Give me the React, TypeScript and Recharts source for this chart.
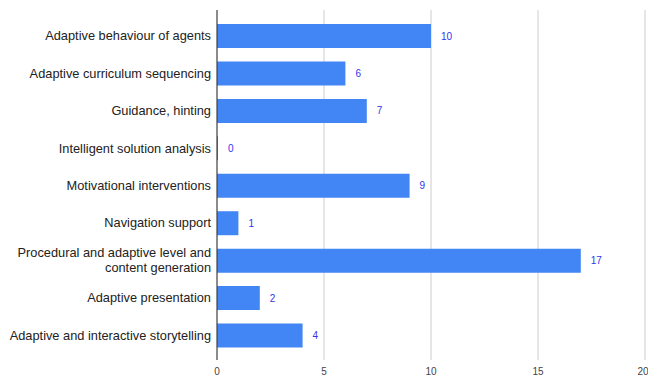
import React from "react";
import { BarChart, Bar, CartesianGrid, XAxis, YAxis, LabelList } from "recharts";

const categories = [
  "Adaptive behaviour of agents",
  "Adaptive curriculum sequencing",
  "Guidance, hinting",
  "Intelligent solution analysis",
  "Motivational interventions",
  "Navigation support",
  "Procedural and adaptive level and content generation",
  "Adaptive presentation",
  "Adaptive and interactive storytelling",
];
const counts = [10, 6, 7, 0, 9, 1, 17, 2, 4];
const xTicks = [0, 5, 10, 15, 20];

const data = categories.map((name, i) => ({ name, value: counts[i] }));

const FONT = "Arial, 'Liberation Sans', sans-serif";

// long labels wrap onto two lines like the original
const wrap = (s: string, max = 38): string[] => {
  const words = s.split(" ");
  const lines: string[] = [];
  let cur = "";
  words.forEach((w) => {
    const next = cur ? cur + " " + w : w;
    if (next.length > max && cur) {
      lines.push(cur);
      cur = w;
    } else cur = next;
  });
  if (cur) lines.push(cur);
  return lines;
};

const CategoryTick = (props: any) => {
  const { y, payload } = props;
  const lines = wrap(payload.value);
  const lh = 15;
  const start = -((lines.length - 1) * lh) / 2;
  const tx = 211;
  return (
    <text x={tx} y={y} textAnchor="end" fontSize={12.8} fontFamily={FONT} fill="#222">
      {lines.map((l, i) => (
        <tspan key={i} x={tx} dy={i === 0 ? start + 4.5 : lh}>
          {l}
        </tspan>
      ))}
    </text>
  );
};

const App: React.FC = () => {
  return (
    <div style={{ position: "absolute", left: 0, top: 0, background: "#fff" }}>
      <BarChart
        width={648}
        height={380}
        data={data}
        layout="vertical"
        margin={{ top: 10, right: 3, bottom: 0, left: 0 }}
      >
        <CartesianGrid horizontal={false} stroke="#cccccc" />
        <XAxis
          type="number"
          domain={[0, 20]}
          ticks={xTicks}
          axisLine={false}
          tickLine={false}
          height={20}
          tick={{ fontSize: 10, fill: "#444", fontFamily: FONT }}
          tickMargin={2}
        />
        <YAxis
          type="category"
          dataKey="name"
          width={217}
          tickLine={false}
          axisLine={{ stroke: "#333" }}
          padding={{ top: 7, bottom: 6 }}
          tick={<CategoryTick />}
          interval={0}
        />
        <Bar
          dataKey="value"
          fill="#4285f4"
          barSize={24}
          minPointSize={1}
          isAnimationActive={false}
        >
          <LabelList
            dataKey="value"
            position="right"
            offset={10}
            fill="#3333ee"
            fontSize={10}
            fontFamily={FONT}
          />
        </Bar>
      </BarChart>
    </div>
  );
};

export default App;
